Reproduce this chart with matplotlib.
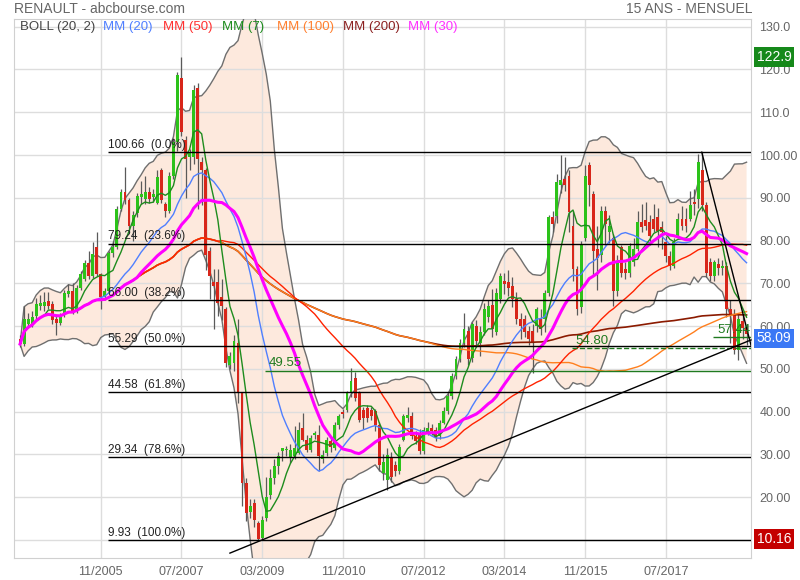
import numpy as np
import pandas as pd
import matplotlib
matplotlib.use("Agg")
import matplotlib.pyplot as plt
from matplotlib.transforms import blended_transform_factory

plt.rcParams['font.family'] = ['Liberation Sans', 'DejaVu Sans']

# monthly candles, index 0 = 03/2004 ... 180 = 03/2019
opens = [57.0, 55.8, 60.4, 60.4, 62.4, 64.6, 64.7, 65.9, 65.1, 61.7,
         60.8, 62.5, 67.6, 68.2, 63.5, 69.0, 71.0, 74.8, 71.8, 78.4,
         72.1, 66.7, 68.2, 77.0, 78.4, 87.4, 91.3, 89.4, 83.5, 86.5,
         90.1, 89.7, 91.3, 90.1, 88.8, 96.4, 88.6, 87.0, 95.2, 103.0,
         117.9, 103.4, 99.5, 99.5, 115.6, 98.4, 96.4, 77.6, 70.2, 70.2,
         66.7, 63.9, 51.0, 51.4, 56.1, 44.4, 23.2, 16.6, 18.5, 13.9,
         10.5, 15.0, 20.5, 24.5, 27.2, 30.7, 31.0, 29.1, 29.5, 30.3,
         36.1, 33.4, 31.1, 34.6, 34.6, 28.9, 30.3, 33.0, 31.5, 36.9,
         40.0, 40.4, 44.4, 47.9, 44.4, 40.4, 40.8, 40.4, 40.1, 36.9,
         25.6, 24.0, 29.1, 27.5, 26.0, 33.4, 38.5, 38.9, 34.2, 35.0,
         30.7, 35.0, 36.1, 35.8, 34.2, 37.3, 40.1, 43.6, 48.3, 52.2,
         56.1, 58.8, 52.5, 60.0, 56.1, 58.5, 62.0, 64.9, 58.5, 66.3,
         70.5, 70.2, 69.4, 66.3, 61.6, 61.6, 58.8, 58.8, 60.0, 61.6,
         61.6, 67.8, 85.4, 85.8, 92.9, 94.4, 95.2, 83.5, 73.3, 64.5,
         80.5, 97.6, 90.9, 78.0, 76.5, 87.0, 82.0, 80.7, 68.2, 78.4,
         73.3, 72.5, 75.0, 78.0, 84.3, 84.7, 84.3, 85.0, 85.4, 83.1,
         79.6, 76.4, 74.1, 81.1, 85.0, 85.0, 85.0, 89.0, 89.7, 96.4,
         88.2, 74.9, 71.7, 74.5, 73.6, 74.1, 64.0, 62.5, 54.5, 61.2,
         59.6]
highs = [57.8, 64.7, 63.0, 63.5, 66.5, 67.2, 68.0, 68.0, 65.8, 62.3,
         63.0, 68.5, 69.8, 70.0, 69.5, 72.8, 75.5, 77.5, 79.6, 82.0,
         72.5, 68.8, 77.5, 79.8, 88.0, 92.0, 97.2, 90.0, 87.0, 91.0,
         94.0, 95.2, 92.5, 92.0, 96.5, 97.0, 89.0, 96.0, 104.0, 119.5,
         122.9, 104.5, 101.5, 116.4, 116.8, 99.5, 97.0, 78.4, 73.3, 73.3,
         71.0, 64.5, 54.0, 58.0, 61.6, 44.5, 24.5, 19.5, 19.5, 14.5,
         15.5, 24.8, 26.5, 29.0, 30.5, 31.5, 32.0, 32.5, 36.6, 37.5,
         39.7, 34.5, 34.5, 35.5, 36.9, 31.0, 34.0, 34.0, 37.5, 39.5,
         40.5, 44.8, 50.2, 49.3, 44.8, 41.0, 41.5, 41.0, 40.5, 37.5,
         30.0, 31.5, 30.5, 28.5, 32.5, 39.5, 41.0, 40.0, 35.5, 36.0,
         36.5, 37.5, 37.0, 36.5, 38.0, 41.0, 44.5, 49.0, 53.0, 57.0,
         63.1, 60.0, 61.0, 61.5, 60.0, 65.5, 66.0, 68.6, 69.0, 72.5,
         72.5, 73.0, 71.5, 68.0, 63.0, 62.5, 60.0, 60.5, 64.5, 64.0,
         68.5, 86.0, 87.0, 95.5, 99.9, 99.5, 96.5, 87.0, 74.0, 80.0,
         97.6, 98.4, 91.5, 83.5, 88.0, 88.0, 86.0, 81.5, 76.5, 79.0,
         75.0, 79.5, 80.5, 87.0, 88.5, 89.0, 86.0, 88.5, 87.5, 84.5,
         81.0, 77.5, 80.5, 86.5, 88.0, 87.5, 91.5, 92.0, 100.3, 100.66,
         89.0, 76.0, 75.5, 76.0, 75.5, 75.0, 66.0, 64.0, 63.0, 62.5,
         60.5]
lows = [55.0, 55.3, 59.5, 59.8, 61.5, 63.8, 63.5, 64.0, 60.5, 58.0,
        60.3, 62.0, 66.8, 62.8, 63.0, 68.5, 70.5, 71.0, 71.2, 71.8,
        63.9, 66.0, 67.8, 76.2, 78.0, 87.0, 88.5, 82.0, 80.0, 85.5,
        88.5, 88.5, 88.8, 89.0, 88.5, 88.8, 85.4, 86.5, 94.5, 101.0,
        104.5, 90.0, 96.5, 98.0, 87.4, 88.2, 73.0, 66.3, 59.2, 62.4,
        61.5, 50.5, 50.0, 49.5, 42.0, 17.8, 14.5, 15.0, 13.0, 9.93,
        10.0, 14.5, 19.5, 23.0, 25.5, 28.5, 29.5, 28.0, 29.0, 30.0,
        33.0, 30.5, 30.5, 33.5, 26.0, 28.0, 29.5, 30.5, 31.0, 36.0,
        38.5, 40.0, 43.5, 42.5, 37.5, 36.0, 37.5, 38.0, 35.5, 26.0,
        24.0, 21.7, 23.5, 25.0, 25.5, 33.0, 37.5, 33.5, 32.5, 30.0,
        30.0, 34.5, 34.5, 33.0, 33.5, 37.0, 39.5, 43.0, 47.5, 51.5,
        55.0, 51.0, 51.5, 55.0, 53.0, 58.0, 61.0, 57.5, 58.0, 65.5,
        67.5, 67.0, 64.5, 60.5, 57.0, 57.5, 55.5, 49.1, 58.5, 58.0,
        58.5, 67.0, 82.0, 84.0, 91.0, 91.5, 82.0, 70.5, 62.5, 63.0,
        80.0, 88.0, 72.0, 68.5, 75.0, 79.0, 79.5, 64.7, 67.0, 71.5,
        71.0, 71.5, 74.0, 77.5, 82.0, 82.5, 79.0, 82.0, 78.5, 78.0,
        75.0, 73.0, 73.5, 80.5, 82.5, 82.0, 84.5, 86.0, 87.5, 87.0,
        71.5, 70.5, 70.5, 72.0, 72.0, 62.0, 56.0, 53.5, 52.0, 57.0,
        55.5]
closes = [55.8, 61.6, 61.7, 62.0, 65.1, 65.5, 65.6, 64.6, 61.5, 60.8,
          62.0, 67.8, 68.2, 63.5, 69.0, 72.1, 74.8, 71.8, 76.8, 72.1,
          66.7, 68.2, 77.0, 78.4, 87.4, 91.3, 89.5, 83.5, 86.0, 90.5,
          90.9, 91.3, 89.7, 90.9, 94.8, 89.4, 87.0, 95.2, 103.0, 118.7,
          105.4, 99.1, 100.7, 115.2, 99.1, 96.4, 76.5, 71.8, 69.4, 65.5,
          64.7, 51.4, 53.0, 56.5, 44.4, 23.2, 16.2, 17.8, 14.6, 10.16,
          14.6, 20.1, 24.5, 27.2, 29.5, 31.5, 31.3, 31.1, 31.4, 35.8,
          33.4, 31.1, 33.8, 35.0, 29.5, 29.9, 33.4, 31.8, 36.9, 38.9,
          39.4, 44.4, 47.1, 43.2, 38.1, 38.5, 38.5, 38.9, 36.9, 27.5,
          28.3, 29.9, 24.8, 26.0, 31.8, 38.9, 39.3, 34.2, 33.0, 30.7,
          35.8, 36.1, 35.4, 33.8, 37.3, 40.1, 43.6, 48.3, 52.2, 56.1,
          59.2, 52.2, 60.4, 56.5, 58.5, 63.9, 64.7, 59.2, 67.8, 71.7,
          69.8, 68.8, 66.3, 61.6, 60.0, 58.5, 56.9, 56.1, 63.9, 59.2,
          67.8, 85.4, 83.9, 93.7, 94.1, 92.9, 86.6, 73.3, 64.0, 79.0,
          95.2, 92.9, 77.6, 76.0, 87.0, 83.9, 83.5, 68.2, 74.9, 72.5,
          72.5, 78.8, 78.0, 84.3, 83.2, 83.5, 81.1, 82.7, 82.3, 81.9,
          76.4, 74.1, 79.6, 85.0, 83.5, 83.5, 88.2, 88.5, 98.4, 88.2,
          72.5, 71.7, 74.9, 73.6, 74.1, 64.0, 62.5, 54.5, 61.6, 59.6,
          58.09]

tick_pos = [20, 40, 60, 80, 100, 120, 140, 160]
tick_lab = ["11/2005", "07/2007", "03/2009", "11/2010", "07/2012",
            "03/2014", "11/2015", "07/2017"]

fib_levels = [100.66, 79.24, 66.00, 55.29, 44.58, 29.34, 9.93]
fib_pcts = ["0.0%", "23.6%", "38.2%", "50.0%", "61.8%", "78.6%", "100.0%"]

sup_levels = [49.55, 54.80, 57.44]
sup_start = [60.7, 136.7, 171.7]
sup_style = ["-", "--", "-"]

trend_up_x, trend_up_y = [52.0, 181.1], [6.9, 56.75]
trend_dn_x, trend_dn_y = [168.9, 181.1], [100.66, 55.5]

box_vals = [122.9, 58.09, 10.16]
box_cols = ["#16891a", "#3b78f5", "#c40000"]
box_shift = [0, -3, 0]

# indicators
cs = pd.Series(closes)
mm = {n: cs.rolling(n, min_periods=1).mean() for n in (7, 20, 30, 50, 100, 200)}
bstd = cs.rolling(20, min_periods=1).std(ddof=0).fillna(0)
b_up = mm[20] + 2 * bstd
b_dn = mm[20] - 2 * bstd

x = np.arange(len(closes))
o = np.array(opens); h = np.array(highs); l = np.array(lows); c = np.array(closes)

fig = plt.figure(figsize=(8, 5.8), dpi=100)
ax = fig.add_axes([0.0175, 0.0379, 0.92125, 0.9293])
XR = 181.1
ax.set_xlim(-1.5, XR)
ax.set_ylim(5.75, 131.8)

# bollinger
ax.fill_between(x, b_dn, b_up, color="#fde9dd", lw=0, zorder=1)
ax.plot(x, b_up, color="#6f6f6f", lw=1, zorder=3)
ax.plot(x, b_dn, color="#6f6f6f", lw=1, zorder=3)

# grid
for v in range(10, 131, 10):
    ax.axhline(v, color="#dddddd", lw=1, zorder=2)
for t in tick_pos:
    ax.axvline(t, color="#dddddd", lw=1, zorder=2)

# candles
up = c >= o
ax.vlines(x, l, h, color="#5a5a5a", lw=0.9, zorder=4)
body = np.maximum(np.abs(c - o), 0.3)
ax.bar(x, body, bottom=np.minimum(o, c), width=0.72,
       color=np.where(up, "#2cc21a", "#d8261a"), lw=0, zorder=5)

# moving averages
ax.plot(x, mm[200], color="#8b1a00", lw=1.2, zorder=6)
ax.plot(x, mm[100], color="#ff7f1e", lw=1, zorder=6)
ax.plot(x, mm[50], color="#ff2200", lw=1, zorder=6)
ax.plot(x, mm[20], color="#4f7fff", lw=1, zorder=6)
ax.plot(x, mm[7], color="#1e8c1e", lw=1, zorder=6)
ax.plot(x, mm[30], color="#ff00ff", lw=2.2, zorder=7)

# fibonacci
ax.hlines(fib_levels, 21.8, XR, color="black", lw=1, zorder=8)
for v, p in zip(fib_levels, fib_pcts):
    ax.text(21.8, v + 0.3, "%.2f  (%s)" % (v, p), fontsize=8.5,
            color="#222222", va="bottom", ha="left", zorder=9)

# supports
for v, s, st in zip(sup_levels, sup_start, sup_style):
    ax.hlines(v, s, XR, color="#1f7a1f", lw=1, linestyles=st, zorder=8)
    ax.text(s + 1.0, v + 0.3, "%.2f" % v, fontsize=9.5, color="#1f7a1f",
            va="bottom", ha="left", zorder=9)

ax.plot(trend_up_x, trend_up_y, color="black", lw=1, zorder=8, clip_on=False)
ax.plot(trend_dn_x, trend_dn_y, color="black", lw=1, zorder=8)

# axes styling
ax.yaxis.tick_right()
yt = list(range(20, 131, 10))
ax.set_yticks(yt)
ax.set_yticklabels([("%.1f" % v) if v > 100 else ("%.2f" % v) for v in yt])
ax.set_xticks(tick_pos)
ax.set_xticklabels(tick_lab)
ax.tick_params(axis="both", length=0, labelsize=9, colors="#666666")
ax.tick_params(axis="y", pad=6)
ax.tick_params(axis="x", pad=6)
for sp in ax.spines.values():
    sp.set_color("#d0d0d0")

tr = blended_transform_factory(ax.transAxes, ax.transData)
for v, col, sh in zip(box_vals, box_cols, box_shift):
    ax.annotate(("%.1f" % v) if v > 100 else ("%.2f" % v), xy=(1.008, v),
                xycoords=tr, xytext=(0, sh), textcoords="offset points",
                fontsize=10, color="white", va="center", ha="left", zorder=10,
                annotation_clip=False,
                bbox=dict(boxstyle="square,pad=0.2", fc=col, ec="none"))

# header
fig.text(14 / 800, 1 - 9 / 580, "RENAULT - abcbourse.com", fontsize=10,
         color="#666666", va="center", ha="left")
fig.text(753 / 800, 1 - 9 / 580, "15 ANS - MENSUEL", fontsize=10,
         color="#666666", va="center", ha="right")
leg = [("BOLL (20, 2)", 20, "#444444"), ("MM (20)", 103, "#4f7fff"),
       ("MM (50)", 163, "#ff3030"), ("MM (7)", 222, "#1e8c1e"),
       ("MM (100)", 277, "#ff8030"), ("MM (200)", 343, "#8b2020"),
       ("MM (30)", 408, "#ff30ff")]
for txt, px, col in leg:
    fig.text(px / 800, 1 - 27 / 580, txt, fontsize=9.5, color=col,
             va="center", ha="left")

fig.savefig("out.png", dpi=100)
